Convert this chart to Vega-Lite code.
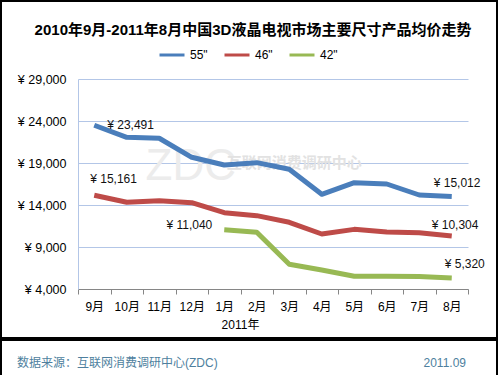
{
  "$schema": "https://vega.github.io/schema/vega-lite/v6.json",
  "padding": 0,
  "background": "white",
  "spacing": 0,
  "config": {
    "font": "Liberation Sans, Noto Sans CJK SC",
    "view": {"stroke": "#000000", "strokeWidth": 2},
    "text": {"font": "Liberation Sans, Noto Sans CJK SC"}
  },
  "datasets": {
    "prices": [
      {"series": "55\"", "month": "9月", "value": 23491},
      {"series": "55\"", "month": "10月", "value": 22060},
      {"series": "55\"", "month": "11月", "value": 21950},
      {"series": "55\"", "month": "12月", "value": 19680},
      {"series": "55\"", "month": "1月", "value": 18760},
      {"series": "55\"", "month": "2月", "value": 19040},
      {"series": "55\"", "month": "3月", "value": 18250},
      {"series": "55\"", "month": "4月", "value": 15270},
      {"series": "55\"", "month": "5月", "value": 16660},
      {"series": "55\"", "month": "6月", "value": 16500},
      {"series": "55\"", "month": "7月", "value": 15190},
      {"series": "55\"", "month": "8月", "value": 15012},
      {"series": "46\"", "month": "9月", "value": 15161},
      {"series": "46\"", "month": "10月", "value": 14320},
      {"series": "46\"", "month": "11月", "value": 14510},
      {"series": "46\"", "month": "12月", "value": 14275},
      {"series": "46\"", "month": "1月", "value": 13090},
      {"series": "46\"", "month": "2月", "value": 12730},
      {"series": "46\"", "month": "3月", "value": 11940},
      {"series": "46\"", "month": "4月", "value": 10550},
      {"series": "46\"", "month": "5月", "value": 11100},
      {"series": "46\"", "month": "6月", "value": 10790},
      {"series": "46\"", "month": "7月", "value": 10700},
      {"series": "46\"", "month": "8月", "value": 10304},
      {"series": "42\"", "month": "1月", "value": 11040},
      {"series": "42\"", "month": "2月", "value": 10750},
      {"series": "42\"", "month": "3月", "value": 6940},
      {"series": "42\"", "month": "4月", "value": 6260},
      {"series": "42\"", "month": "5月", "value": 5510},
      {"series": "42\"", "month": "6月", "value": 5510},
      {"series": "42\"", "month": "7月", "value": 5500},
      {"series": "42\"", "month": "8月", "value": 5320}
    ],
    "labels": [
      {"key": "a", "series": "55\"", "month": "9月", "value": 23491, "text": "¥ 23,491"},
      {"key": "b", "series": "46\"", "month": "9月", "value": 15161, "text": "¥ 15,161"},
      {"key": "c", "series": "42\"", "month": "1月", "value": 11040, "text": "¥ 11,040"},
      {"key": "d", "series": "55\"", "month": "8月", "value": 15012, "text": "¥ 15,012"},
      {"key": "e", "series": "46\"", "month": "8月", "value": 10304, "text": "¥ 10,304"},
      {"key": "f", "series": "42\"", "month": "8月", "value": 5320, "text": "¥ 5,320"}
    ],
    "footer": [
      {"k": "source", "t": "数据来源：互联网消费调研中心(ZDC)"},
      {"k": "date", "t": "2011.09"}
    ]
  },
  "vconcat": [
    {
      "width": 496,
      "height": 337,
      "title": {
        "text": "2010年9月-2011年8月中国3D液晶电视市场主要尺寸产品均价走势",
        "fontSize": 15,
        "fontWeight": "bold",
        "color": "#000000",
        "anchor": "middle",
        "frame": "group",
        "orient": "top",
        "baseline": "top",
        "offset": -37,
        "dx": 4
      },
      "layer": [
        {
          "data": {"values": [{}]},
          "mark": {"type": "text", "text": "ZDC", "fontSize": 44, "color": "#ececec", "baseline": "middle", "align": "center", "dx": -1},
          "encoding": {
            "x": {"datum": "12月", "type": "ordinal"},
            "y": {"datum": 18500, "type": "quantitative"}
          }
        },
        {
          "data": {"values": [{}]},
          "mark": {"type": "text", "text": "互联网消费调研中心", "fontSize": 15, "fontWeight": "bold", "color": "#e2e2e2", "baseline": "middle", "align": "center", "dx": 5},
          "encoding": {
            "x": {"datum": "3月", "type": "ordinal"},
            "y": {"datum": 19000, "type": "quantitative"}
          }
        },
        {
          "data": {"name": "prices"},
          "mark": {"type": "line", "strokeWidth": 5, "strokeJoin": "round"},
          "encoding": {
            "x": {
              "field": "month",
              "type": "ordinal",
              "scale": {
                "type": "band",
                "domain": ["9月", "10月", "11月", "12月", "1月", "2月", "3月", "4月", "5月", "6月", "7月", "8月"],
                "range": [77, 467],
                "paddingInner": 0,
                "paddingOuter": 0
              },
              "axis": {
                "orient": "bottom",
                "offset": -49,
                "title": "2011年",
                "titleX": 239,
                "titleY": 35,
                "titleAlign": "center",
                "titleBaseline": "middle",
                "titleFontSize": 12,
                "titleFontWeight": "normal",
                "titleColor": "#000000",
                "tickBand": "extent",
                "labelAlign": "center",
                "tickSize": 5,
                "tickColor": "#868686",
                "domainColor": "#868686",
                "labelFontSize": 12,
                "labelColor": "#000000",
                "labelPadding": 12,
                "labelAngle": 0,
                "grid": false
              }
            },
            "y": {
              "field": "value",
              "type": "quantitative",
              "scale": {"domain": [4000, 29000], "range": [288, 78], "nice": false, "zero": false},
              "axis": {
                "orient": "left",
                "offset": -77,
                "values": [4000, 9000, 14000, 19000, 24000, 29000],
                "labelExpr": "'¥ ' + format(datum.value, ',')",
                "ticks": false,
                "tickSize": 0,
                "labelPadding": 12,
                "labelFontSize": 12.5,
                "labelColor": "#000000",
                "domainColor": "#b3c6e7",
                "gridColor": "#b3c6e7",
                "grid": true,
                "title": ""
              }
            },
            "color": {
              "field": "series",
              "type": "nominal",
              "scale": {"domain": ["55\"", "46\"", "42\""], "range": ["#4a7ebb", "#be4b48", "#98b954"]},
              "legend": {
                "orient": "none",
                "legendX": 157,
                "legendY": 40,
                "direction": "horizontal",
                "title": null,
                "padding": 0,
                "symbolType": "stroke",
                "symbolSize": 625,
                "symbolStrokeWidth": 3,
                "labelFontSize": 12,
                "labelColor": "#000000",
                "labelOffset": 4,
                "columnPadding": 10
              }
            }
          }
        },
        {
          "data": {"name": "labels"},
          "transform": [{"filter": "datum.key == 'a'"}],
          "mark": {"type": "text", "align": "left", "baseline": "middle", "dx": 13, "dy": 0, "fontSize": 12, "color": "#111111"},
          "encoding": {
            "x": {"field": "month", "type": "ordinal"},
            "y": {"field": "value", "type": "quantitative"},
            "text": {"field": "text"}
          }
        },
        {
          "data": {"name": "labels"},
          "transform": [{"filter": "datum.key == 'b'"}],
          "mark": {"type": "text", "align": "left", "baseline": "middle", "dx": -4, "dy": -16, "fontSize": 12, "color": "#111111"},
          "encoding": {
            "x": {"field": "month", "type": "ordinal"},
            "y": {"field": "value", "type": "quantitative"},
            "text": {"field": "text"}
          }
        },
        {
          "data": {"name": "labels"},
          "transform": [{"filter": "datum.key == 'c'"}],
          "mark": {"type": "text", "align": "right", "baseline": "middle", "dx": -12, "dy": -5, "fontSize": 12, "color": "#111111"},
          "encoding": {
            "x": {"field": "month", "type": "ordinal"},
            "y": {"field": "value", "type": "quantitative"},
            "text": {"field": "text"}
          }
        },
        {
          "data": {"name": "labels"},
          "transform": [{"filter": "datum.key == 'd'"}],
          "mark": {"type": "text", "align": "left", "baseline": "middle", "dx": -18, "dy": -13, "fontSize": 12, "color": "#111111"},
          "encoding": {
            "x": {"field": "month", "type": "ordinal"},
            "y": {"field": "value", "type": "quantitative"},
            "text": {"field": "text"}
          }
        },
        {
          "data": {"name": "labels"},
          "transform": [{"filter": "datum.key == 'e'"}],
          "mark": {"type": "text", "align": "left", "baseline": "middle", "dx": -20, "dy": -11, "fontSize": 12, "color": "#111111"},
          "encoding": {
            "x": {"field": "month", "type": "ordinal"},
            "y": {"field": "value", "type": "quantitative"},
            "text": {"field": "text"}
          }
        },
        {
          "data": {"name": "labels"},
          "transform": [{"filter": "datum.key == 'f'"}],
          "mark": {"type": "text", "align": "left", "baseline": "middle", "dx": -7, "dy": -14, "fontSize": 12, "color": "#111111"},
          "encoding": {
            "x": {"field": "month", "type": "ordinal"},
            "y": {"field": "value", "type": "quantitative"},
            "text": {"field": "text"}
          }
        }
      ]
    },
    {
      "width": 496,
      "height": 36,
      "data": {"name": "footer"},
      "layer": [
        {
          "transform": [{"filter": "datum.k == 'source'"}],
          "mark": {"type": "text", "align": "left", "baseline": "middle", "dy": 5, "fontSize": 12, "color": "#4e7f9e"},
          "encoding": {
            "x": {"field": "k", "type": "nominal", "scale": {"type": "point", "domain": ["source", "date"], "range": [16, 465], "padding": 0}, "axis": null},
            "text": {"field": "t"}
          }
        },
        {
          "transform": [{"filter": "datum.k == 'date'"}],
          "mark": {"type": "text", "align": "right", "baseline": "middle", "dy": 5, "fontSize": 12, "color": "#4e7f9e"},
          "encoding": {
            "x": {"field": "k", "type": "nominal", "axis": null},
            "text": {"field": "t"}
          }
        }
      ]
    }
  ]
}
